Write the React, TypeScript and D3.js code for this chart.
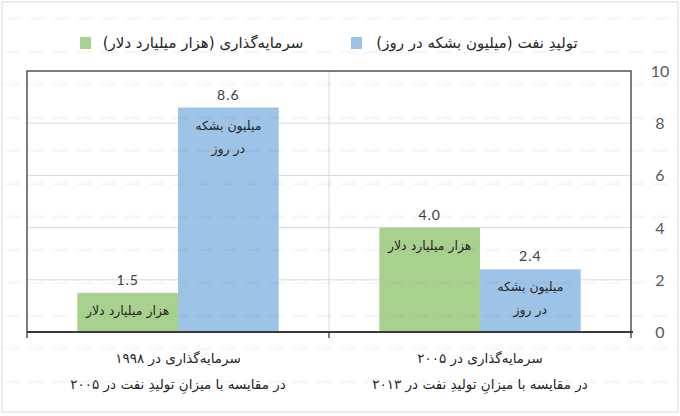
import * as d3 from "d3"
import { useEffect } from "react"

// categories (two lines each), right-to-left chart
const categoryLine1 = ["سرمایه\u200cگذاری در ۱۹۹۸", "سرمایه\u200cگذاری در ۲۰۰۵"]
const categoryLine2 = ["در مقایسه با میزانِ تولیدِ نفت در ۲۰۰۵", "در مقایسه با میزانِ تولیدِ نفت در ۲۰۱۳"]
const investment = [1.5, 4.0] // هزار میلیارد دلار
const oilProduction = [8.6, 2.4] // میلیون بشکه در روز
const yTicks = [0, 2, 4, 6, 8, 10]

const seriesKeys = ["investment", "oil"]
const seriesNames = ["سرمایه\u200cگذاری (هزار میلیارد دلار)", "تولیدِ نفت (میلیون بشکه در روز)"]
const seriesInner = [["هزار میلیارد دلار"], ["میلیون بشکه", "در روز"]]
const COLORS = ["#a9d18e", "#9dc3e6"]

const W = 680
const H = 416
const M = { left: 27, right: 631, top: 71, bottom: 332 }
const FA = "'DejaVu Sans', sans-serif"
const NUM = "Lato, 'DejaVu Sans', sans-serif"

export default function App() {
  useEffect(() => {
    document.body.style.margin = "0"
  }, [])

  const x = d3.scaleBand<number>().domain([0, 1]).range([M.left, M.right]).paddingInner(0).paddingOuter(0)
  const xs = d3.scaleBand<string>().domain(seriesKeys).range([0, x.bandwidth()]).paddingInner(0).paddingOuter(0.5)
  const y = d3.scaleLinear().domain([0, 10]).range([M.bottom, M.top])

  const values = [investment, oilProduction]

  return (
    <svg width={W} height={H} style={{ display: "block", background: "#fff" }}>
      <defs>
        <pattern id="wm" patternUnits="userSpaceOnUse" width={24} height={33}>
          <text x={12} y={20} fontSize={10} fontFamily={FA} textAnchor="middle" fill="#000">نفت</text>
        </pattern>
      </defs>
      <rect x={2} y={2} width={W - 4} height={H - 6} fill="#fff" stroke="#d9d9d9" />

      {/* gridlines */}
      {yTicks.filter(t => t > 0 && t < 10).map(t => (
        <line key={t} x1={M.left} x2={M.right} y1={y(t)} y2={y(t)} stroke="#d9d9d9" strokeWidth={1} />
      ))}
      <line x1={x(1)} x2={x(1)} y1={M.top} y2={M.bottom} stroke="#d9d9d9" strokeWidth={1} />

      {/* bars */}
      {[0, 1].map(ci => seriesKeys.map((k, si) => {
        const v = values[si][ci]
        const bx = (x(ci) ?? 0) + (xs(k) ?? 0)
        const bw = xs.bandwidth()
        const top = y(v)
        return (
          <g key={ci + k}>
            <rect x={bx} y={top} width={bw} height={y(0) - top} fill={COLORS[si]} />
            <text x={bx + bw / 2} y={top - 8} textAnchor="middle" fontFamily={NUM} fontSize={14} fill="#404040" letterSpacing={1}>
              {v.toFixed(1)}
            </text>
            {seriesInner[si].map((line, li) => (
              <text key={li} x={bx + bw / 2} y={top + 22 + li * 23} textAnchor="middle" direction="rtl"
                fontFamily={FA} fontSize={12.5} fill="#262626">{line}</text>
            ))}
          </g>
        )
      }))}

      {/* frame */}
      <rect x={M.left} y={M.top} width={M.right - M.left} height={M.bottom - M.top} fill="none" stroke="#3a3a3a" strokeWidth={1.3} />
      <line x1={M.left} x2={M.right + 2} y1={M.bottom} y2={M.bottom} stroke="#3a3a3a" strokeWidth={2} />
      {[M.left, x(1) ?? 0, M.right].map((tx, i) => (
        <line key={i} x1={tx} x2={tx} y1={M.bottom} y2={M.bottom + 6} stroke="#3a3a3a" strokeWidth={1.3} />
      ))}

      {/* y axis labels on the right */}
      {yTicks.map(t => (
        <text key={t} x={660} y={y(t) + 6} textAnchor="middle" fontFamily={NUM} fontSize={16} fill="#595959">{t}</text>
      ))}

      {/* category labels */}
      {[0, 1].map(ci => {
        const cx = (x(ci) ?? 0) + x.bandwidth() / 2
        return (
          <g key={ci}>
            <text x={cx} y={363} textAnchor="middle" direction="rtl" fontFamily={FA} fontSize={13.5} fill="#262626">{categoryLine1[ci]}</text>
            <text x={cx} y={389} textAnchor="middle" direction="rtl" fontFamily={FA} fontSize={13.5} fill="#262626">{categoryLine2[ci]}</text>
          </g>
        )
      })}

      {/* legend */}
      {[1, 0].map((si, i) => {
        const sqX = i === 0 ? 351 : 80
        const textCx = i === 0 ? 477 : 203
        return (
          <g key={si}>
            <rect x={sqX} y={37} width={11} height={12} fill={COLORS[si]} />
            <text x={textCx} y={48} textAnchor="middle" direction="rtl" fontFamily={FA} fontSize={15} fill="#262626">{seriesNames[si]}</text>
          </g>
        )
      })}

      {/* watermark */}
      <rect x={2} y={2} width={W - 4} height={H - 6} fill="url(#wm)" opacity={0.05} pointerEvents="none" />
    </svg>
  )
}
